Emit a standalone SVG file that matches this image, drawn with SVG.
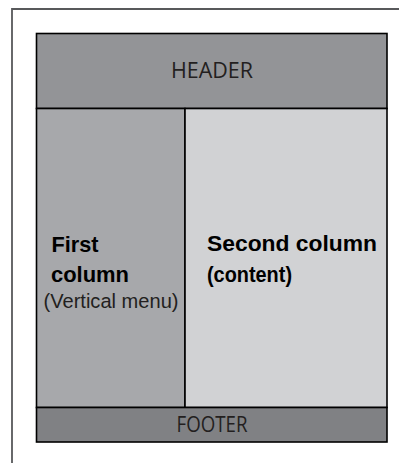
<svg xmlns="http://www.w3.org/2000/svg" width="399" height="463" viewBox="0 0 399 463">
  <style>
    .edge { stroke: #000000; stroke-width: 1.6; }
    .frame { fill: none; stroke: #58595b; stroke-width: 1.8; }
    .cap { font-family: "Open Sans", "DejaVu Sans", sans-serif; font-size: 21px; fill: #231f20; text-anchor: middle; }
    .bold { font-family: "Liberation Sans", Arial, sans-serif; font-weight: bold; font-size: 22px; fill: #000; }
    .note { font-family: "Liberation Sans", Arial, sans-serif; font-size: 20.5px; fill: #231f20; }
  </style>
  <rect width="399" height="463" fill="#ffffff"/>
  <!-- outer page frame, open at right and bottom -->
  <path class="frame" d="M12 463 V9 H399"/>

  <g id="header">
    <rect class="edge" x="36.5" y="33.5" width="350.5" height="75" fill="#939497"/>
    <text class="cap" x="212" y="78" textLength="82" lengthAdjust="spacingAndGlyphs">HEADER</text>
  </g>

  <g id="first-column">
    <rect class="edge" x="36.5" y="108.5" width="148.5" height="299" fill="#a7a8ab"/>
    <text class="bold" x="51.5" y="252" textLength="47" lengthAdjust="spacingAndGlyphs">First</text>
    <text class="bold" x="51" y="282" textLength="78" lengthAdjust="spacingAndGlyphs">column</text>
    <text class="note" x="43.5" y="308" textLength="135" lengthAdjust="spacingAndGlyphs">(Vertical menu)</text>
  </g>

  <g id="second-column">
    <rect class="edge" x="185" y="108.5" width="202" height="299" fill="#d1d2d4"/>
    <text class="bold" x="207" y="251" textLength="170" lengthAdjust="spacingAndGlyphs">Second column</text>
    <text class="bold" x="207" y="282" textLength="85" lengthAdjust="spacingAndGlyphs">(content)</text>
  </g>

  <g id="footer">
    <rect class="edge" x="36.5" y="407.5" width="350.5" height="34.5" fill="#808184"/>
    <text class="cap" x="212" y="432" textLength="71" lengthAdjust="spacingAndGlyphs">FOOTER</text>
  </g>

  <g id="connectors"/>
</svg>
